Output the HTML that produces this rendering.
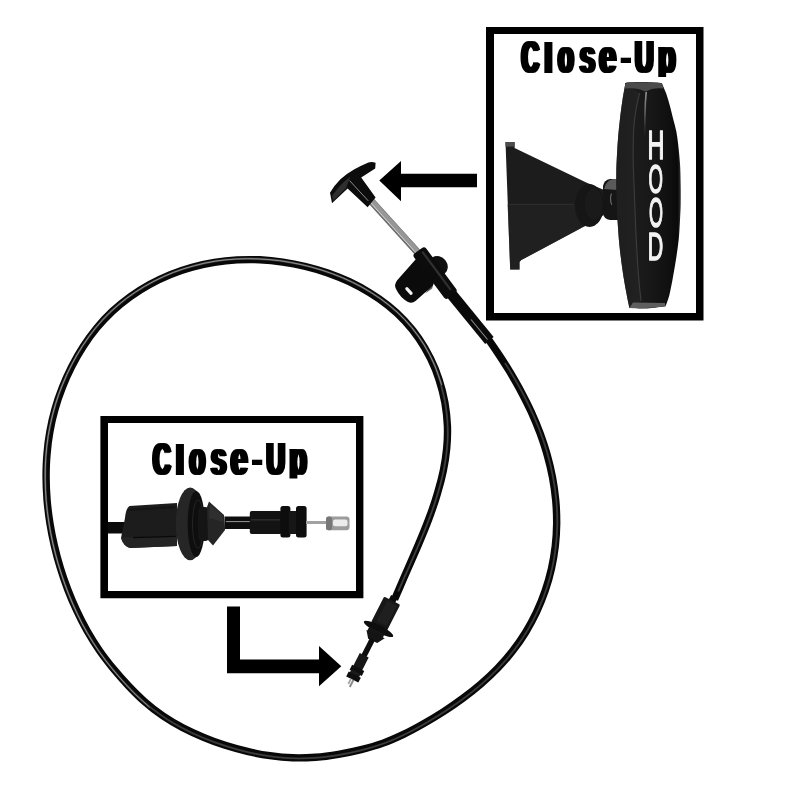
<!DOCTYPE html>
<html lang="en">
<head>
<meta charset="utf-8">
<title>Hood Release Cable - Close-Up</title>
<style>
html,body{margin:0;padding:0;background:#fff;}
body{width:800px;height:800px;overflow:hidden;}
svg{display:block;}
text{font-family:"Liberation Sans",sans-serif;}
text.hood{font-family:"Liberation Sans",sans-serif;font-weight:normal;fill:#f3f3f3;stroke:#f3f3f3;stroke-width:1.5px;stroke-linejoin:round;}
text.cu{font-family:"Liberation Sans",sans-serif;font-weight:bold;fill:#000;}
</style>
</head>
<body>
<svg width="800" height="800" viewBox="0 0 800 800" role="img" aria-label="Hood release cable with close-up views">
<defs>
  <filter id="fat" x="-5%" y="-5%" width="110%" height="110%"><feMorphology operator="dilate" radius="2 0"/></filter>
  <clipPath id="clip1"><rect x="500" y="36" width="190" height="40.9"/></clipPath>
  <clipPath id="clip2"><rect x="130" y="436" width="190" height="42.6"/></clipPath>
  <linearGradient id="knob" gradientUnits="userSpaceOnUse" x1="617" y1="0" x2="681" y2="0">
    <stop offset="0" stop-color="#141414"/>
    <stop offset="0.3" stop-color="#1b1b1b"/>
    <stop offset="0.5" stop-color="#181818"/>
    <stop offset="0.8" stop-color="#101010"/>
    <stop offset="0.95" stop-color="#0a0a0a"/>
    <stop offset="1" stop-color="#3a3a3a"/>
  </linearGradient>
  <linearGradient id="streak" gradientUnits="userSpaceOnUse" x1="0" y1="91" x2="0" y2="138">
    <stop offset="0" stop-color="#a8a8a8" stop-opacity="0.9"/>
    <stop offset="0.5" stop-color="#777" stop-opacity="0.7"/>
    <stop offset="1" stop-color="#444" stop-opacity="0"/>
  </linearGradient>
  <filter id="gs" x="-10%" y="-10%" width="120%" height="120%"><feOffset dx="0" dy="0"/></filter>
</defs>
<rect width="800" height="800" fill="#fff"/>

<!-- cable loop -->
<path d="M484.2,333.3 C486.4,336.4 493.0,345.7 497.2,352.1 C501.5,358.4 505.6,364.9 509.6,371.4 C513.5,378.0 517.4,384.6 521.0,391.4 C524.6,398.2 528.1,405.0 531.3,412.0 C534.4,418.9 537.4,426.0 540.1,433.2 C542.7,440.4 545.2,447.6 547.2,455.0 C549.3,462.4 551.1,469.9 552.5,477.4 C553.9,484.9 555.0,492.5 555.7,500.1 C556.4,507.7 556.7,515.4 556.7,523.0 C556.6,530.6 556.2,538.3 555.3,545.9 C554.4,553.4 553.2,561.0 551.5,568.5 C549.8,576.0 547.7,583.4 545.2,590.6 C542.7,597.9 539.8,605.0 536.6,612.0 C533.3,618.9 529.7,625.7 525.7,632.2 C521.7,638.7 517.3,645.0 512.6,651.0 C508.0,657.0 502.9,662.7 497.6,668.2 C492.3,673.7 486.7,678.9 480.9,684.0 C475.1,689.0 469.0,693.8 462.9,698.3 C456.7,702.9 450.3,707.3 443.8,711.5 C437.4,715.6 430.8,719.6 424.1,723.4 C417.5,727.2 410.8,730.9 404.0,734.1 C397.1,737.4 390.2,740.5 383.1,743.1 C375.9,745.7 368.5,747.8 361.1,749.7 C353.7,751.6 346.0,753.1 338.4,754.3 C330.8,755.6 323.2,756.7 315.6,757.3 C307.9,757.8 300.3,758.1 292.7,757.8 C285.1,757.6 277.4,756.8 269.9,755.7 C262.3,754.7 254.8,753.2 247.4,751.4 C239.9,749.7 232.5,747.6 225.2,745.3 C217.9,742.9 210.7,740.3 203.6,737.3 C196.6,734.4 189.6,731.2 182.8,727.7 C176.0,724.1 169.4,720.3 163.1,716.0 C156.8,711.8 150.7,707.1 145.0,702.0 C139.2,697.0 133.8,691.5 128.5,685.9 C123.3,680.4 118.2,674.6 113.3,668.7 C108.5,662.8 103.8,656.8 99.4,650.5 C95.1,644.2 91.0,637.7 87.2,631.0 C83.4,624.3 79.9,617.4 76.7,610.5 C73.4,603.6 70.4,596.5 67.7,589.4 C65.0,582.3 62.5,575.1 60.3,567.8 C58.1,560.6 56.1,553.2 54.4,545.8 C52.6,538.3 51.1,530.8 49.9,523.2 C48.7,515.6 47.8,508.0 47.1,500.3 C46.5,492.7 46.1,484.9 46.1,477.3 C46.1,469.6 46.3,461.9 47.0,454.3 C47.6,446.7 48.5,439.0 49.9,431.5 C51.2,424.1 52.9,416.6 55.0,409.3 C57.0,402.0 59.5,394.8 62.3,387.7 C65.0,380.6 68.2,373.6 71.7,366.7 C75.1,359.9 78.9,353.1 83.1,346.7 C87.3,340.2 91.8,333.9 96.7,328.0 C101.6,322.1 106.9,316.5 112.4,311.3 C118.0,306.1 124.0,301.2 130.2,296.7 C136.4,292.3 142.9,288.2 149.6,284.5 C156.3,280.8 163.3,277.5 170.4,274.6 C177.5,271.7 184.8,269.2 192.1,267.2 C199.4,265.1 206.9,263.5 214.4,262.3 C221.9,261.1 229.5,260.3 237.1,259.9 C244.7,259.5 252.3,259.5 260.0,259.8 C267.6,260.2 275.2,261.0 282.8,262.1 C290.4,263.2 298.0,264.7 305.5,266.5 C313.0,268.3 320.5,270.5 327.8,273.0 C335.1,275.6 342.3,278.4 349.3,281.7 C356.2,285.0 363.0,288.6 369.5,292.6 C376.0,296.5 382.3,300.9 388.2,305.7 C394.1,310.4 399.7,315.5 404.8,321.0 C410.0,326.6 414.8,332.5 419.1,338.8 C423.4,345.0 427.2,351.8 430.6,358.7 C434.0,365.6 436.9,372.8 439.2,380.2 C441.6,387.5 443.5,395.1 444.9,402.7 C446.2,410.3 447.1,418.0 447.4,425.6 C447.7,433.2 447.4,440.8 446.7,448.3 C446.0,455.8 444.8,463.3 443.3,470.8 C441.8,478.2 439.8,485.6 437.6,492.9 C435.5,500.3 433.0,507.6 430.3,514.9 C427.7,522.1 424.8,529.3 421.8,536.5 C418.9,543.6 415.8,550.7 412.7,557.8 C409.6,564.8 406.5,571.8 403.5,578.7 C400.5,585.7 396.1,596.0 394.6,599.4" fill="none" stroke="#080808" stroke-width="7.4" stroke-linecap="butt" stroke-linejoin="round"/>
<g fill="none" stroke-linecap="butt">
  <path d="M505.0,362.9 C507.1,366.4 513.7,376.9 517.7,384.1 C521.7,391.3 525.6,398.6 529.1,406.0 C532.7,413.4 536.0,421.0 539.0,428.6 C542.0,436.3 544.7,444.1 547.0,452.0 C549.3,459.9 551.3,467.9 552.8,476.0 C554.4,484.1 555.6,492.3 556.3,500.4 C557.1,508.6 557.4,516.9 557.3,525.1 C557.1,533.3 556.5,541.5 555.4,549.7 C554.4,557.8 552.8,566.0 550.8,573.9 C548.8,581.9 546.3,589.9 543.3,597.6 C540.4,605.2 537.0,612.8 533.2,620.1 C529.4,627.4 525.1,634.5 520.5,641.3 C515.9,648.0 510.8,654.5 505.4,660.7 C500.0,666.8 494.2,672.7 488.1,678.3 C482.1,683.9 475.8,689.2 469.2,694.3 C462.7,699.3 455.9,704.2 449.1,708.7 C442.2,713.3 435.1,717.7 428.0,721.8 C420.9,726.0 413.8,730.0 406.4,733.6 C399.1,737.2 391.7,740.6 384.0,743.4 C376.3,746.2 368.4,748.5 360.4,750.5 C352.4,752.5 344.2,754.1 336.0,755.4 C327.8,756.6 319.6,757.7 311.4,758.1 C303.2,758.6 294.9,758.6 286.8,758.1 C278.6,757.6 270.4,756.5 262.3,755.1 C254.2,753.7 246.2,751.9 238.2,749.7 C230.3,747.6 222.4,745.1 214.7,742.3 C206.9,739.4 199.3,736.3 191.8,732.8 C184.4,729.3 177.0,725.5 170.1,721.2 C163.1,716.9 153.3,709.4 149.9,707.0" stroke="#2e2e2e" stroke-width="2"/>
  <path d="M441.0,385.0 C441.6,387.4 443.6,394.4 444.5,399.1 C445.5,403.9 446.2,408.7 446.7,413.5 C447.3,418.2 447.6,423.0 447.7,427.8 C447.9,432.6 447.8,437.3 447.5,442.1 C447.2,446.8 446.7,451.5 446.1,456.2 C445.5,460.9 444.6,465.6 443.7,470.3 C442.7,474.9 441.6,479.6 440.4,484.2 C439.2,488.8 437.8,493.4 436.4,498.0 C435.0,502.6 433.4,507.2 431.8,511.7 C430.2,516.3 428.4,520.8 426.7,525.3 C424.9,529.8 423.1,534.3 421.2,538.8 C419.3,543.2 417.4,547.7 415.5,552.1 C413.6,556.6 411.6,561.0 409.7,565.3 C407.8,569.7 405.8,574.1 403.9,578.4 C402.0,582.8 399.3,589.2 398.3,591.4" stroke="#303030" stroke-width="2"/>
  <path d="M505.0,362.9 C507.1,366.4 513.7,376.9 517.7,384.1 C521.7,391.3 525.6,398.6 529.1,406.0 C532.7,413.4 536.0,421.0 539.0,428.6 C542.0,436.3 544.7,444.1 547.0,452.0 C549.3,459.9 551.3,467.9 552.8,476.0 C554.4,484.1 555.6,492.3 556.3,500.4 C557.1,508.6 557.4,516.9 557.3,525.1 C557.1,533.3 556.5,541.5 555.4,549.7 C554.4,557.8 552.8,566.0 550.8,573.9 C548.8,581.9 546.3,589.9 543.3,597.6 C540.4,605.2 537.0,612.8 533.2,620.1 C529.4,627.4 525.1,634.5 520.5,641.3 C515.9,648.0 510.8,654.5 505.4,660.7 C500.0,666.8 494.2,672.7 488.1,678.3 C482.1,683.9 475.8,689.2 469.2,694.3 C462.7,699.3 455.9,704.2 449.1,708.7 C442.2,713.3 435.1,717.7 428.0,721.8 C420.9,726.0 413.8,730.0 406.4,733.6 C399.1,737.2 391.7,740.6 384.0,743.4 C376.3,746.2 368.4,748.5 360.4,750.5 C352.4,752.5 344.2,754.1 336.0,755.4 C327.8,756.6 319.6,757.7 311.4,758.1 C303.2,758.6 294.9,758.6 286.8,758.1 C278.6,757.6 270.4,756.5 262.3,755.1 C254.2,753.7 246.2,751.9 238.2,749.7 C230.3,747.6 222.4,745.1 214.7,742.3 C206.9,739.4 199.3,736.3 191.8,732.8 C184.4,729.3 177.0,725.5 170.1,721.2 C163.1,716.9 153.3,709.4 149.9,707.0" stroke="#454545" stroke-width="0.8"/>
  <path d="M441.0,385.0 C441.6,387.4 443.6,394.4 444.5,399.1 C445.5,403.9 446.2,408.7 446.7,413.5 C447.3,418.2 447.6,423.0 447.7,427.8 C447.9,432.6 447.8,437.3 447.5,442.1 C447.2,446.8 446.7,451.5 446.1,456.2 C445.5,460.9 444.6,465.6 443.7,470.3 C442.7,474.9 441.6,479.6 440.4,484.2 C439.2,488.8 437.8,493.4 436.4,498.0 C435.0,502.6 433.4,507.2 431.8,511.7 C430.2,516.3 428.4,520.8 426.7,525.3 C424.9,529.8 423.1,534.3 421.2,538.8 C419.3,543.2 417.4,547.7 415.5,552.1 C413.6,556.6 411.6,561.0 409.7,565.3 C407.8,569.7 405.8,574.1 403.9,578.4 C402.0,582.8 399.3,589.2 398.3,591.4" stroke="#4a4a4a" stroke-width="0.8"/>
  <path d="M149.7,707.3 C147.1,704.8 138.9,697.8 133.8,692.7 C128.7,687.6 123.8,682.3 119.1,676.9 C114.4,671.4 109.8,666.0 105.4,660.2 C101.1,654.5 96.9,648.6 93.1,642.5 C89.2,636.5 85.6,630.2 82.2,623.8 C78.9,617.4 75.8,610.9 72.9,604.3 C70.0,597.7 67.3,591.0 64.9,584.3 C62.4,577.6 60.2,570.8 58.2,564.0 C56.2,557.1 54.4,550.2 52.8,543.2 C51.3,536.2 49.9,529.1 48.8,522.0 C47.7,514.9 46.8,507.7 46.2,500.5 C45.6,493.3 45.3,486.0 45.2,478.8 C45.1,471.6 45.3,464.4 45.8,457.2 C46.3,450.0 47.1,442.8 48.2,435.8 C49.4,428.7 50.8,421.7 52.6,414.7 C54.3,407.8 56.4,401.0 58.8,394.2 C61.2,387.5 64.0,380.8 67.0,374.3 C70.0,367.8 73.3,361.3 77.0,355.0 C80.6,348.8 84.5,342.6 88.8,336.8 C93.0,331.0 97.6,325.3 102.5,320.0 C107.4,314.7 112.6,309.7 118.1,305.1 C123.6,300.4 129.4,296.1 135.4,292.1 C141.4,288.1 147.6,284.4 154.0,281.2 C160.4,277.9 167.0,274.9 173.8,272.3 C180.5,269.7 187.3,267.5 194.3,265.7 C201.2,263.8 208.2,262.3 215.3,261.2 C222.4,260.1 229.5,259.4 236.6,259.0 C243.8,258.6 251.0,258.6 258.1,258.9 C265.3,259.2 272.5,259.8 279.7,260.7 C286.8,261.7 294.0,263.0 301.0,264.5 C308.1,266.1 315.2,268.0 322.1,270.2 C329.0,272.4 335.9,274.9 342.5,277.7 C349.2,280.6 355.8,283.7 362.1,287.2 C368.4,290.7 374.5,294.5 380.3,298.6 C386.1,302.7 391.7,307.2 397.0,312.0 C402.2,316.8 407.2,322.0 411.7,327.5 C416.2,333.0 420.4,338.9 424.2,345.0 C427.9,351.1 431.3,357.7 434.2,364.3 C437.1,370.9 440.4,381.4 441.6,384.9" stroke="#3a3a3a" stroke-width="2.2"/>
  <path d="M149.7,707.3 C147.1,704.8 138.9,697.8 133.8,692.7 C128.7,687.6 123.8,682.3 119.1,676.9 C114.4,671.4 109.8,666.0 105.4,660.2 C101.1,654.5 96.9,648.6 93.1,642.5 C89.2,636.5 85.6,630.2 82.2,623.8 C78.9,617.4 75.8,610.9 72.9,604.3 C70.0,597.7 67.3,591.0 64.9,584.3 C62.4,577.6 60.2,570.8 58.2,564.0 C56.2,557.1 54.4,550.2 52.8,543.2 C51.3,536.2 49.9,529.1 48.8,522.0 C47.7,514.9 46.8,507.7 46.2,500.5 C45.6,493.3 45.3,486.0 45.2,478.8 C45.1,471.6 45.3,464.4 45.8,457.2 C46.3,450.0 47.1,442.8 48.2,435.8 C49.4,428.7 50.8,421.7 52.6,414.7 C54.3,407.8 56.4,401.0 58.8,394.2 C61.2,387.5 64.0,380.8 67.0,374.3 C70.0,367.8 73.3,361.3 77.0,355.0 C80.6,348.8 84.5,342.6 88.8,336.8 C93.0,331.0 97.6,325.3 102.5,320.0 C107.4,314.7 112.6,309.7 118.1,305.1 C123.6,300.4 129.4,296.1 135.4,292.1 C141.4,288.1 147.6,284.4 154.0,281.2 C160.4,277.9 167.0,274.9 173.8,272.3 C180.5,269.7 187.3,267.5 194.3,265.7 C201.2,263.8 208.2,262.3 215.3,261.2 C222.4,260.1 229.5,259.4 236.6,259.0 C243.8,258.6 251.0,258.6 258.1,258.9 C265.3,259.2 272.5,259.8 279.7,260.7 C286.8,261.7 294.0,263.0 301.0,264.5 C308.1,266.1 315.2,268.0 322.1,270.2 C329.0,272.4 335.9,274.9 342.5,277.7 C349.2,280.6 355.8,283.7 362.1,287.2 C368.4,290.7 374.5,294.5 380.3,298.6 C386.1,302.7 391.7,307.2 397.0,312.0 C402.2,316.8 407.2,322.0 411.7,327.5 C416.2,333.0 420.4,338.9 424.2,345.0 C427.9,351.1 431.3,357.7 434.2,364.3 C437.1,370.9 440.4,381.4 441.6,384.9" stroke="#9a9a9a" stroke-width="0.9"/>
</g>

<!-- handle assembly (small) -->
<g id="small-handle">
  <line x1="371.3" y1="201" x2="418.8" y2="253.5" stroke="#979797" stroke-width="7"/>
  <line x1="369.1" y1="203" x2="416.6" y2="255.5" stroke="#6c6c6c" stroke-width="1.4"/>
  <line x1="370.1" y1="202.1" x2="417.6" y2="254.6" stroke="#d2d2d2" stroke-width="1"/>
  <line x1="373.6" y1="198.9" x2="421.1" y2="251.4" stroke="#858585" stroke-width="1"/>
  <path d="M330,192.8 Q334.5,185 340.4,179.2 Q347,173.6 354,169.6 Q361,165.4 368.4,162.4 Q372,161.5 375.6,162.8 L375.2,168.4 L361.2,177.6 L375.6,197.6 L367.6,207.2 L347.6,188.4 L332,203.2 Z" fill="#0c0c0c"/>
  <path d="M332,196 Q340,184 350.5,176.5 L346,188 L333.5,200.5 Z" fill="#2e2e2e"/>
  <line x1="349.6" y1="180.6" x2="368.2" y2="200.8" stroke="#9a9a9a" stroke-width="0.9"/>
  <ellipse cx="438.6" cy="265.6" rx="8.6" ry="10.2" fill="#0f0f0f" transform="rotate(-36 438.6 265.6)"/>
  <path d="M433.8,281.5 L425.2,293.5 L432.2,288.6 Z" fill="#5e5e5e"/>
  <path d="M416,259 L397.2,280.2 Q393.8,284.5 396,289 Q400,297.5 408,302 Q412,304 415.5,301 L433,285.5 L436,275 Z" fill="#0b0b0b"/>
  <rect x="404.3" y="289.5" width="9.4" height="3.1" rx="1.5" fill="#f4f4f4" transform="rotate(48 409 291)"/>
  <line x1="451" y1="293.5" x2="489.4" y2="340.4" stroke="#0a0a0a" stroke-width="11"/>
  <line x1="471" y1="319.5" x2="487.5" y2="339.5" stroke="#8a8a8a" stroke-width="1.1"/>
  <g transform="translate(418.4,250.6) rotate(53.4)">
    <rect x="0" y="-7.5" width="56" height="15" rx="3" fill="#0c0c0c"/>
    <rect x="3" y="-3.6" width="48" height="2.2" rx="1.1" fill="#303030"/>
  </g>
</g>

<!-- top arrow -->
<path d="M379.3,180.5 L401,161 L401,173.8 L477,173.8 L477,187.2 L401,187.2 L401,201.2 Z" fill="#000"/>

<!-- top-right box -->
<path fill-rule="evenodd" d="M486,27 H703.5 V320.5 H486 Z M494,34 V313 H696 V34 Z" fill="#000"/>
<text class="cu" filter="url(#fat)" clip-path="url(#clip1)"><tspan x="521.60" y="73.34" font-size="46.05" textLength="17.56" lengthAdjust="spacingAndGlyphs">C</tspan><tspan x="544.31" y="73.40" font-size="43.31" textLength="8.31" lengthAdjust="spacingAndGlyphs">l</tspan><tspan x="558.10" y="73.32" font-size="47.81" textLength="15.70" lengthAdjust="spacingAndGlyphs">o</tspan><tspan x="579.63" y="73.32" font-size="47.72" textLength="15.41" lengthAdjust="spacingAndGlyphs">s</tspan><tspan x="599.32" y="73.32" font-size="47.81" textLength="16.81" lengthAdjust="spacingAndGlyphs">e</tspan><tspan x="621.63" y="72.11" font-size="44.54" textLength="8.26" lengthAdjust="spacingAndGlyphs">-</tspan><tspan x="635.06" y="73.34" font-size="45.56" textLength="18.50" lengthAdjust="spacingAndGlyphs">U</tspan><tspan x="658.13" y="73.32" font-size="47.81" textLength="17.33" lengthAdjust="spacingAndGlyphs">p</tspan></text>

<!-- close-up: handle -->
<g id="closeup-handle">
  <path d="M505.5,142 H514.6 V147.9 L586.2,182.4 Q595,186 603,189.6 L603.5,215 Q596,221 580.8,228.2 L521.3,260.1 L519.5,262 V269.6 H510.2 Z" fill="#1c1c1c"/>
  <path d="M507.6,204.5 L576,204.5 L580.8,228.2 L521.3,260.1 L519.5,262 V269.6 H510.2 Z" fill="#222" opacity="0.7"/>
  <rect x="505.5" y="142" width="9.1" height="4.6" fill="#4d4d4d"/>
  <path d="M509,204.3 L574,204.3" stroke="#303030" stroke-width="1" fill="none"/>
  <ellipse cx="589.5" cy="205.5" rx="14.5" ry="21.5" fill="#161616"/>
  <ellipse cx="593.5" cy="204" rx="9" ry="15.5" fill="#1a1a1a"/>
  <path d="M603,186 Q604,180 610,179 L618,179 L618,220 L610,220 Q604,219 603,214 Z" fill="#151515"/>
  <path d="M604,189 Q606,180.5 613,179 L618,179 L618,190 Z" fill="#5a5a5a"/>
  <path d="M611.3,194 Q609.6,199 611.6,204.4" fill="none" stroke="#6a6a6a" stroke-width="1.2" stroke-linecap="round"/>
  <path d="M661.8,83.0 C662.5,84.8 664.9,89.9 666.3,93.8 C667.7,97.7 668.9,102.1 670.0,106.3 C671.1,110.5 672.1,114.6 673.1,118.8 C674.1,123.0 675.5,127.1 676.3,131.3 C677.1,135.5 677.6,139.6 678.1,143.8 C678.6,148.0 679.0,152.1 679.4,156.3 C679.8,160.5 680.1,164.0 680.3,168.8 C680.5,173.6 680.6,179.0 680.7,185.0 C680.8,191.0 680.8,199.2 680.7,205.0 C680.6,210.8 680.3,214.4 680.0,220.0 C679.7,225.6 679.4,232.6 678.8,238.8 C678.2,245.1 677.2,251.2 676.3,257.5 C675.3,263.8 674.2,270.1 673.1,276.3 C672.0,282.6 670.6,290.0 669.4,295.0 C668.1,300.0 666.2,304.4 665.6,306.3 L665.6,306.3 C662.5,306.6 653.0,308.1 647.0,308.4 C641.0,308.7 632.3,308.1 629.4,308.0 L629.4,308.0 C628.9,305.4 627.4,298.8 626.3,292.5 C625.1,286.2 623.6,277.9 622.5,270.0 C621.4,262.1 620.2,253.3 619.4,245.0 C618.6,236.7 618.0,227.5 617.5,220.0 C617.0,212.5 616.8,207.5 616.6,200.0 C616.4,192.5 616.2,182.3 616.3,175.0 C616.3,167.7 616.6,162.6 616.9,156.3 C617.2,150.1 617.6,143.8 618.1,137.5 C618.6,131.2 619.3,125.0 620.0,118.8 C620.7,112.5 621.6,105.7 622.5,100.0 C623.4,94.3 624.8,87.2 625.2,84.6 L625.2,84.6 C625.5,84.3 623.9,83.0 627.0,82.6 C630.1,82.2 638.2,81.9 644.0,82.0 C649.8,82.1 658.8,82.8 661.8,83.0 Z" fill="url(#knob)"/>
  <path d="M629.4,308.0 C628.9,305.4 627.4,298.8 626.3,292.5 C625.1,286.2 623.6,277.9 622.5,270.0 C621.4,262.1 620.2,253.3 619.4,245.0 C618.6,236.7 618.0,227.5 617.5,220.0 C617.0,212.5 616.8,207.5 616.6,200.0 C616.4,192.5 616.2,182.3 616.3,175.0 C616.3,167.7 616.6,162.6 616.9,156.3 C617.2,150.1 617.6,143.8 618.1,137.5 C618.6,131.2 619.3,125.0 620.0,118.8 C620.7,112.5 621.6,105.7 622.5,100.0 C623.4,94.3 624.8,87.2 625.2,84.6 L639.5,93.0 C638.9,95.8 637.0,104.2 636.0,110.0 C635.0,115.8 634.3,119.7 633.8,128.0 C633.3,136.3 633.1,148.7 633.2,160.0 C633.3,171.3 634.0,182.7 634.5,196.0 C635.0,209.3 635.6,226.8 636.3,240.0 C637.0,253.2 637.7,264.8 638.5,275.0 C639.3,285.2 640.6,296.7 641.0,301.0 Z" fill="#242424" opacity="0.7"/>
  <path d="M625.2,84.6 L627,82.6 Q644,81.6 661.8,83 L663.6,88.4 Q652,87.4 646,91.6 Q636,87 624.6,88.6 Z" fill="#4a4a4a"/>
  <path d="M639.5,93.0 C638.9,95.8 637.0,104.2 636.0,110.0 C635.0,115.8 634.3,119.7 633.8,128.0 C633.3,136.3 633.1,148.7 633.2,160.0 C633.3,171.3 634.0,182.7 634.5,196.0 C635.0,209.3 635.6,226.8 636.3,240.0 C637.0,253.2 637.7,264.8 638.5,275.0 C639.3,285.2 640.6,296.7 641.0,301.0" fill="none" stroke="#585858" stroke-width="1.1" stroke-opacity="0.55"/>
  <path d="M646.2,92 Q645.2,102 645,114 L644.6,138" fill="none" stroke="url(#streak)" stroke-width="1.6"/>
  <path d="M633,302.4 L664.8,303 L665.6,306.3 Q647,309 629.4,308 Z" fill="#5e5e5e"/>
  <text class="hood" filter="url(#gs)"><tspan x="647.53" y="159.30" font-size="40.12" textLength="16.92" lengthAdjust="spacingAndGlyphs">H</tspan><tspan x="648.58" y="193.40" font-size="40.40" textLength="14.46" lengthAdjust="spacingAndGlyphs">O</tspan><tspan x="649.00" y="227.38" font-size="41.81" textLength="14.01" lengthAdjust="spacingAndGlyphs">O</tspan><tspan x="647.69" y="260.30" font-size="39.39" textLength="15.49" lengthAdjust="spacingAndGlyphs">D</tspan></text>
</g>

<!-- bottom-left box -->
<path fill-rule="evenodd" d="M100.4,416 H363.4 V598.3 H100.4 Z M108,423 V591 H356 V423 Z" fill="#000"/>
<text class="cu" filter="url(#fat)" clip-path="url(#clip2)"><tspan x="153.00" y="475.04" font-size="46.05" textLength="17.56" lengthAdjust="spacingAndGlyphs">C</tspan><tspan x="175.71" y="475.10" font-size="43.31" textLength="8.31" lengthAdjust="spacingAndGlyphs">l</tspan><tspan x="189.50" y="475.02" font-size="47.81" textLength="15.70" lengthAdjust="spacingAndGlyphs">o</tspan><tspan x="211.03" y="475.02" font-size="47.72" textLength="15.41" lengthAdjust="spacingAndGlyphs">s</tspan><tspan x="230.72" y="475.02" font-size="47.81" textLength="16.81" lengthAdjust="spacingAndGlyphs">e</tspan><tspan x="253.03" y="473.81" font-size="44.54" textLength="8.26" lengthAdjust="spacingAndGlyphs">-</tspan><tspan x="266.46" y="475.04" font-size="45.56" textLength="18.50" lengthAdjust="spacingAndGlyphs">U</tspan><tspan x="289.53" y="475.02" font-size="47.81" textLength="17.33" lengthAdjust="spacingAndGlyphs">p</tspan></text>

<!-- close-up: cable end -->
<g id="closeup-end">
  <rect x="108" y="522" width="17" height="11.5" fill="#0b0b0b"/>
  <path d="M129.5,506 L177,503 V546 L130,548 Q123.5,546 121,538 L125,518 Q126,508 129.5,506 Z" fill="#1c1c1c"/>
  <path d="M122.3,537.4 L177,535.8 V546 L130,548 Q123.5,546 121.4,539 Z" fill="#242424"/>
  <path d="M133,537.6 L176,536.4" stroke="#090909" stroke-width="1.3" fill="none"/>
  <path d="M128,510 L175,507" stroke="#151515" stroke-width="2" fill="none"/>
  <ellipse cx="190.2" cy="523.8" rx="14.4" ry="36.4" fill="#262626"/>
  <ellipse cx="196.2" cy="524" rx="8.6" ry="33" fill="#0e0e0e"/>
  <ellipse cx="198" cy="524" rx="5.5" ry="24" fill="none" stroke="#242424" stroke-width="1"/>
  <rect x="198" y="507" width="11" height="34" rx="4" fill="#151515"/>
  <path d="M209,501.5 L224,515 L225,530 L213,545.5 L208,540 L207,507 Z" fill="#252525"/>
  <path d="M210,504 L222.5,515.5 L223,522 L209,518 Z" fill="#2f2f2f"/>
  <rect x="224.5" y="516.5" width="27" height="12.5" fill="#0d0d0d"/>
  <rect x="226" y="521" width="24" height="1.1" fill="#8a8a8a"/>
  <rect x="249.8" y="511" width="32" height="23" rx="2" fill="#131313"/>
  <rect x="251" y="519" width="29" height="1.6" fill="#2a2a2a"/>
  <rect x="280.4" y="506" width="10" height="31.4" rx="2.5" fill="#0d0d0d"/>
  <rect x="289" y="511" width="8" height="23" fill="#161616"/>
  <rect x="296" y="506" width="10.6" height="31.4" rx="2.5" fill="#0d0d0d"/>
  <rect x="306" y="521" width="21" height="3" fill="#a2a2a2"/>
  <rect x="326" y="516.6" width="23.5" height="13.6" rx="3" fill="#9c9c9c"/>
  <rect x="326" y="516.6" width="6" height="13.6" rx="2.5" fill="#777"/>
  <rect x="333" y="519.6" width="14.5" height="6.6" rx="2" fill="#ececec"/>
</g>

<!-- L arrow -->
<path d="M227,606.5 H240 V659.5 H319 V646 L341.3,666.2 L319,686.3 V673.3 H227 Z" fill="#000"/>

<!-- cable end (small) -->
<g id="small-end" transform="translate(392,601) rotate(117.1)">
  <rect x="-5" y="-3.6" width="7" height="7.2" fill="#0a0a0a"/>
  <rect x="-0.5" y="-9" width="29" height="18" rx="1.5" fill="#171717"/>
  <rect x="2" y="-6.5" width="23" height="11" fill="#1f1f1f"/>
  <ellipse cx="31" cy="-0.7" rx="3.7" ry="16.4" fill="#0e0e0e"/>
  <rect x="33" y="-8.5" width="5" height="17" fill="#151515"/>
  <path d="M36.5,-10.5 L37.5,9.5 L44.5,4 L44.2,-6 Z" fill="#141414"/>
  <rect x="43" y="-2.8" width="19" height="5.6" fill="#0d0d0d"/>
  <rect x="61" y="-5" width="15" height="10" fill="#171717"/>
  <rect x="75" y="-7.2" width="5.5" height="13.6" fill="#0e0e0e"/>
  <rect x="79.5" y="-5.4" width="4" height="10.4" fill="#1a1a1a"/>
  <rect x="82.5" y="-7.2" width="5.5" height="13.6" fill="#0e0e0e"/>
  <rect x="87.8" y="-2.6" width="8" height="2" fill="#8a8a8a"/>
  <rect x="87.8" y="0.2" width="6" height="1.8" fill="#a5a5a5"/>
</g>
</svg>
</body>
</html>
